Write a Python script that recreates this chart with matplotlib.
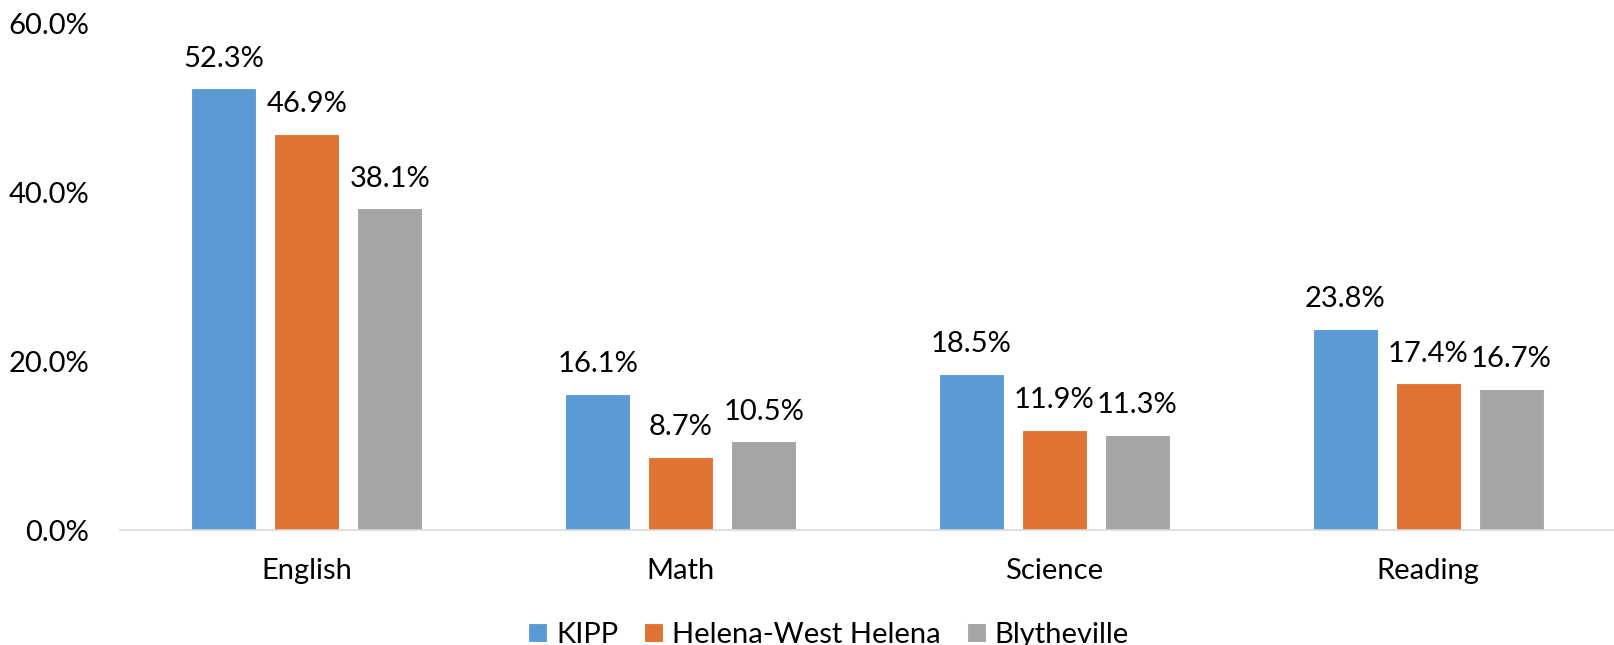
import matplotlib.pyplot as plt
import numpy as np

plt.rcParams['font.family'] = ['Lato', 'DejaVu Sans']

subjects = ['English', 'Math', 'Science', 'Reading']
series = ['KIPP', 'Helena-West Helena', 'Blytheville']
kipp = [52.3, 16.1, 18.5, 23.8]
helena = [46.9, 8.7, 11.9, 17.4]
blytheville = [38.1, 10.5, 11.3, 16.7]
colors = ['#5B9BD5', '#DF7432', '#A5A5A5']

fig = plt.figure(figsize=(16.15, 6.45), dpi=100)
ax = fig.add_axes([0.0743, 0.178, 0.9257, 0.786])

x = np.arange(len(subjects))
width = 0.174
step = 0.222
for i, (name, vals) in enumerate(zip(series, [kipp, helena, blytheville])):
    pos = x + (i - 1) * step
    bars = ax.bar(pos, vals, width, color=colors[i], label=name,
                  edgecolor='white', linewidth=0.8)
    for b, v in zip(bars, vals):
        ax.annotate(f'{v:.1f}%', (b.get_x() + b.get_width() / 2, v),
                    xytext=(0, 12), textcoords='offset points',
                    ha='center', va='bottom', fontsize=21)

ax.set_xlim(-0.5, len(subjects) - 0.5)
ax.set_ylim(0, 60)
ax.set_yticks([0, 20, 40, 60])
ax.set_yticklabels([f'{t:.1f}%' for t in [0, 20, 40, 60]], fontsize=21)
ax.set_xticks(x)
ax.set_xticklabels(subjects, fontsize=21)
ax.tick_params(axis='both', length=0)
ax.tick_params(axis='x', pad=20)
ax.tick_params(axis='y', pad=22)
for s in ['top', 'right', 'left']:
    ax.spines[s].set_visible(False)
ax.spines['bottom'].set_color('#D9D9D9')
ax.spines['bottom'].set_linewidth(1.2)

fig.legend(loc='lower center', bbox_to_anchor=(0.513, -0.045), ncol=3,
           frameon=False, fontsize=21, handlelength=0.65, handleheight=0.65,
           handletextpad=0.3, columnspacing=0.9)

fig.savefig('out.png', dpi=100)
